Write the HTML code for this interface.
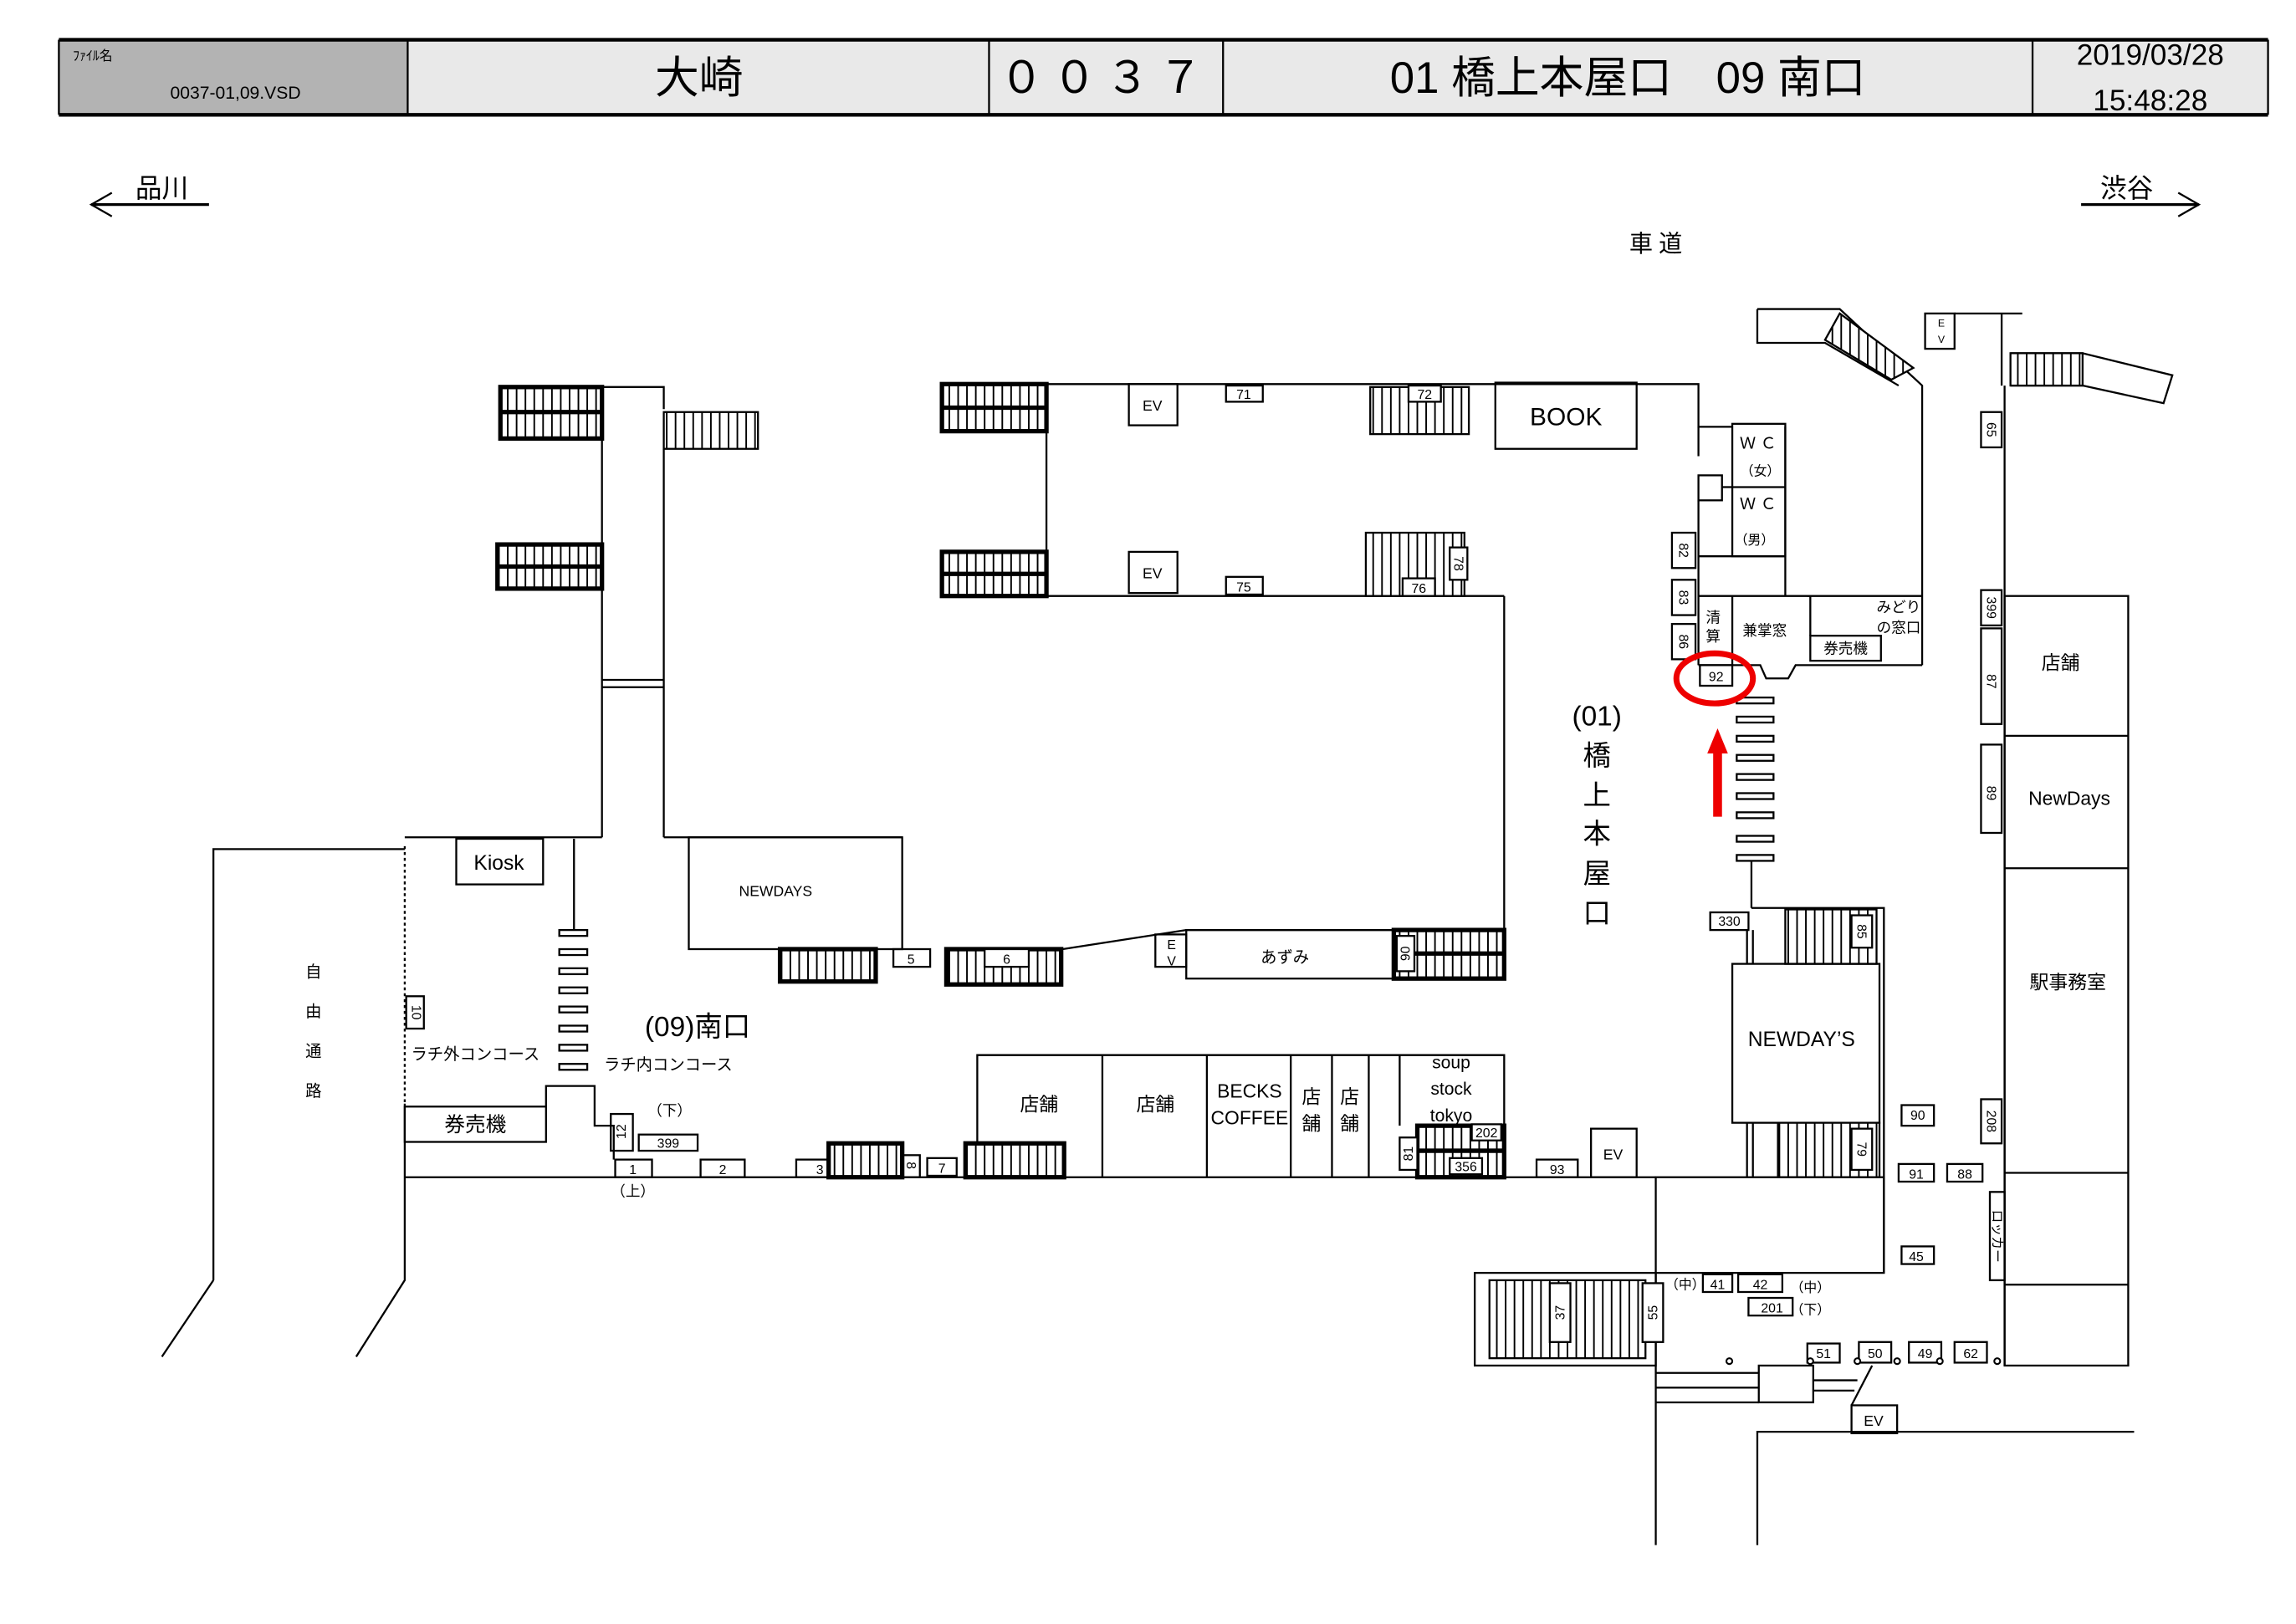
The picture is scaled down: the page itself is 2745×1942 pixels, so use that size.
<!DOCTYPE html>
<html><head><meta charset="utf-8"><style>
html,body{margin:0;padding:0;background:#fff;}
svg{display:block;}
text{font-family:"Liberation Sans","Noto Sans CJK JP",sans-serif;fill:#000;}
</style></head><body>
<svg width="2745" height="1942" viewBox="0 0 1560 1103.6" xmlns="http://www.w3.org/2000/svg">
<defs>
<pattern id="sv" width="6" height="10" patternUnits="userSpaceOnUse"><rect width="6" height="10" fill="#fff"/><line x1="3" y1="0" x2="3" y2="10" stroke="#000" stroke-width="1.1"/></pattern>
<pattern id="sh" width="10" height="6" patternUnits="userSpaceOnUse"><rect width="10" height="6" fill="#fff"/><line x1="0" y1="3" x2="10" y2="3" stroke="#000" stroke-width="1.1"/></pattern>
</defs>
<g fill="none" stroke="#000" stroke-width="1.3">
<!-- header -->
<rect x="40" y="27" width="237" height="51" fill="#b3b3b3" stroke="none"/>
<rect x="277" y="27" width="1264" height="51" fill="#e9e9e9" stroke="none"/>
<line x1="40" y1="27" x2="1541" y2="27" stroke-width="2.5"/>
<line x1="40" y1="78" x2="1541" y2="78" stroke-width="2.5"/>
<line x1="40" y1="27" x2="40" y2="78"/><line x1="1541" y1="27" x2="1541" y2="78"/>
<line x1="277" y1="27" x2="277" y2="78"/><line x1="672" y1="27" x2="672" y2="78"/>
<line x1="831" y1="27" x2="831" y2="78"/><line x1="1381" y1="27" x2="1381" y2="78"/>
<!-- direction arrows -->
<line x1="62" y1="139" x2="142" y2="139" stroke-width="1.8"/><polyline points="76,131 62,139 76,147"/>
<line x1="1414" y1="139" x2="1494" y2="139" stroke-width="1.8"/><polyline points="1480,131 1494,139 1480,147"/>

<!-- left stair column -->
<polyline points="409,298 409,370"/><polyline points="409,400 409,569"/>
<polyline points="409,263 451,263 451,278"/><polyline points="451,305 451,569"/>
<rect x="340" y="263" width="69" height="35" fill="url(#sv)" stroke-width="3"/><line x1="340" y1="280" x2="409" y2="280" stroke-width="3"/>
<rect x="338" y="370" width="71" height="30" fill="url(#sv)" stroke-width="3"/><line x1="338" y1="385" x2="409" y2="385" stroke-width="3"/>
<rect x="451" y="280" width="64" height="25" fill="url(#sv)"/>
<line x1="409" y1="462" x2="451" y2="462"/><line x1="409" y1="467" x2="451" y2="467"/>

<!-- upper hall -->
<polyline points="711,261 1154,261 1154,290 1177,290"/>
<line x1="711" y1="293" x2="711" y2="375"/>
<line x1="711" y1="405" x2="1022" y2="405"/>
<line x1="1022" y1="405" x2="1022" y2="632"/>
<rect x="640" y="261" width="71" height="32" fill="url(#sv)" stroke-width="3"/><line x1="640" y1="277" x2="711" y2="277" stroke-width="3"/>
<rect x="640" y="375" width="71" height="30" fill="url(#sv)" stroke-width="3"/><line x1="640" y1="390" x2="711" y2="390" stroke-width="3"/>
<rect x="767" y="261" width="33" height="28"/><rect x="767" y="375" width="33" height="28"/>
<rect x="833" y="262" width="25" height="11"/><rect x="833" y="392" width="25" height="12"/>
<rect x="931" y="263" width="67" height="32" fill="url(#sv)"/><rect x="957" y="262" width="22" height="11" fill="#fff"/>
<rect x="928" y="362" width="67" height="43" fill="url(#sv)"/><rect x="953" y="393" width="22" height="12" fill="#fff"/><rect x="985" y="372" width="12" height="22" fill="#fff"/>
<rect x="1016" y="260" width="96" height="45"/>

<!-- lower part of hall -->
<line x1="722" y1="645" x2="806" y2="632"/><line x1="806" y1="632" x2="1022" y2="632"/>
<rect x="806" y="632" width="141" height="33"/>
<rect x="785" y="635" width="21" height="22"/>
<rect x="947" y="632" width="75" height="33" fill="url(#sv)" stroke-width="3"/><line x1="947" y1="648" x2="1022" y2="648" stroke-width="3"/><rect x="949" y="636" width="12" height="24" fill="#fff"/>
<line x1="451" y1="569" x2="613" y2="569"/>
<rect x="468" y="569" width="145" height="76"/>
<rect x="530" y="645" width="65" height="22" fill="url(#sv)" stroke-width="3"/>
<rect x="607" y="645" width="25" height="12"/>
<rect x="643" y="645" width="78" height="24" fill="url(#sv)" stroke-width="3"/><rect x="669" y="645" width="30" height="12" fill="#fff"/>

<!-- left concourse -->
<line x1="275" y1="569" x2="409" y2="569"/>
<rect x="310" y="570" width="59" height="31"/>
<line x1="390" y1="570" x2="390" y2="632"/>
<line x1="275" y1="575" x2="275" y2="750" stroke-dasharray="2,2"/>
<polyline points="145,870 145,577 275,577"/>
<line x1="145" y1="870" x2="110" y2="922"/>
<polyline points="275,750 275,870 242,922"/>
<rect x="275" y="752" width="96" height="24"/>
<polyline points="371,752 371,738 404,738 404,765 417,765 417,788"/>
<rect x="276" y="677" width="12" height="22"/>
<line x1="275" y1="800" x2="1125" y2="800"/>
<rect x="418" y="788" width="25" height="12"/><rect x="415" y="757" width="15" height="25"/>
<rect x="434" y="771" width="40" height="11"/><rect x="476" y="788" width="30" height="12"/>
<rect x="541" y="788" width="33" height="12"/>
<rect x="563" y="777" width="50" height="23" fill="url(#sv)" stroke-width="3"/>
<rect x="613" y="785" width="12" height="15"/><rect x="630" y="787" width="20" height="12"/>
<!-- shops row -->
<polyline points="664,800 664,717 1022,717 1022,800"/>
<line x1="749" y1="717" x2="749" y2="800"/><line x1="820" y1="717" x2="820" y2="800"/>
<line x1="877" y1="717" x2="877" y2="800"/><line x1="905" y1="717" x2="905" y2="800"/>
<line x1="930" y1="717" x2="930" y2="800"/>
<line x1="951" y1="717" x2="951" y2="765"/>
<rect x="656" y="777" width="67" height="23" fill="url(#sv)" stroke-width="3"/>
<rect x="963" y="765" width="59" height="35" fill="url(#sv)" stroke-width="3"/><line x1="963" y1="782" x2="1022" y2="782" stroke-width="3"/>
<rect x="951" y="773" width="12" height="22" fill="#fff"/>
<rect x="1000" y="764" width="20" height="11" fill="#fff"/><rect x="985" y="787" width="22" height="11" fill="#fff"/>
<rect x="1044" y="788" width="28" height="12"/><rect x="1081" y="767" width="31" height="33"/>

<!-- right upper area -->
<line x1="1154" y1="290" x2="1154" y2="310"/>
<line x1="1154" y1="340" x2="1154" y2="452"/>
<rect x="1154" y="323" width="16" height="17"/>
<line x1="1170" y1="331" x2="1177" y2="331"/>
<rect x="1177" y="288" width="36" height="90"/>
<line x1="1177" y1="331" x2="1213" y2="331"/>
<line x1="1154" y1="378" x2="1213" y2="378"/>
<line x1="1213" y1="290" x2="1213" y2="405"/>
<polyline points="1154,405 1230,405 1230,432"/>
<line x1="1177" y1="405" x2="1177" y2="452"/>
<polyline points="1228,405 1306,405"/>
<rect x="1230" y="432" width="48" height="17"/>
<polyline points="1154,452 1196,452 1200,461 1215,461 1220,452 1306,452"/>
<polyline points="1194,210 1250,210 1306,262 1306,452"/>
<polyline points="1194,210 1194,233 1240,233 1290,262"/>
<polygon points="1250,213 1300,250 1285,258 1240,231" fill="url(#sv)"/>
<rect x="1308" y="213" width="20" height="24"/>
<polyline points="1328,213 1374,213"/><line x1="1360" y1="213" x2="1360" y2="262"/>
<polyline points="1366,240 1415,240 1476,255 1470,274 1415,262 1366,262"/>
<rect x="1366" y="240" width="49" height="22" fill="url(#sv)"/>
<line x1="1362" y1="262" x2="1362" y2="928"/>
<rect x="1362" y="405" width="84" height="523"/>
<line x1="1362" y1="500" x2="1446" y2="500"/><line x1="1362" y1="590" x2="1446" y2="590"/>
<line x1="1362" y1="797" x2="1446" y2="797"/><line x1="1362" y1="873" x2="1446" y2="873"/>
<rect x="1346" y="280" width="14" height="24"/><rect x="1346" y="401" width="14" height="24"/>
<rect x="1346" y="427" width="14" height="65"/><rect x="1346" y="506" width="14" height="60"/>
<rect x="1346" y="747" width="14" height="30"/><rect x="1352" y="810" width="10" height="60"/>
<rect x="1136" y="362" width="16" height="24"/><rect x="1136" y="394" width="16" height="24"/>
<rect x="1136" y="424" width="16" height="24"/><rect x="1155" y="452" width="22" height="14"/>
<!-- gates -->
<rect x="1180" y="474" width="25" height="4"/><rect x="1180" y="487" width="25" height="4"/>
<rect x="1180" y="500" width="25" height="4"/><rect x="1180" y="513" width="25" height="4"/>
<rect x="1180" y="526" width="25" height="4"/><rect x="1180" y="539" width="25" height="4"/>
<rect x="1180" y="552" width="25" height="4"/><rect x="1180" y="568" width="25" height="4"/>
<rect x="1180" y="581" width="25" height="4"/>
<line x1="1190" y1="585" x2="1190" y2="617"/>
<rect x="380" y="632" width="19" height="4"/><rect x="380" y="645" width="19" height="4"/>
<rect x="380" y="658" width="19" height="4"/><rect x="380" y="671" width="19" height="4"/>
<rect x="380" y="684" width="19" height="4"/><rect x="380" y="697" width="19" height="4"/>
<rect x="380" y="710" width="19" height="4"/><rect x="380" y="723" width="19" height="4"/>
<!-- NEWDAY'S block -->
<rect x="1162" y="620" width="26" height="12"/>
<polyline points="1190,617 1280,617 1280,865"/>
<rect x="1213" y="618" width="62" height="37" fill="url(#sv)"/><rect x="1258" y="622" width="14" height="22" fill="#fff"/>
<rect x="1177" y="655" width="100" height="108"/>
<rect x="1208" y="763" width="69" height="37" fill="url(#sv)"/><rect x="1258" y="767" width="14" height="28" fill="#fff"/>
<line x1="1187" y1="632" x2="1187" y2="655"/><line x1="1191" y1="632" x2="1191" y2="655"/>
<line x1="1187" y1="763" x2="1187" y2="800"/><line x1="1191" y1="763" x2="1191" y2="800"/>
<rect x="1125" y="800" width="155" height="65"/>
<line x1="1125" y1="865" x2="1125" y2="1050"/>
<rect x="1002" y="865" width="123" height="63"/>
<rect x="1012" y="870" width="106" height="53" fill="url(#sv)"/>
<rect x="1053" y="872" width="14" height="40" fill="#fff"/><rect x="1116" y="872" width="14" height="40" fill="#fff"/>
<rect x="1157" y="866" width="20" height="12"/><rect x="1181" y="866" width="30" height="12"/>
<rect x="1188" y="882" width="30" height="12"/>
<rect x="1228" y="913" width="22" height="13"/><rect x="1263" y="912" width="22" height="14"/>
<rect x="1297" y="912" width="22" height="14"/><rect x="1328" y="912" width="22" height="14"/>
<line x1="1125" y1="933" x2="1195" y2="933"/><line x1="1125" y1="943" x2="1195" y2="943"/><line x1="1125" y1="953" x2="1195" y2="953"/>
<rect x="1195" y="928" width="37" height="25"/>
<line x1="1232" y1="945" x2="1260" y2="945"/><line x1="1232" y1="938" x2="1262" y2="938"/>
<line x1="1258" y1="955" x2="1272" y2="928"/>
<rect x="1258" y="955" width="31" height="19"/>
<polyline points="1194,1050 1194,973 1450,973"/>
<rect x="1292" y="751" width="22" height="14"/><rect x="1290" y="791" width="24" height="12"/>
<rect x="1323" y="791" width="24" height="12"/><rect x="1292" y="847" width="22" height="12"/>
</g>
<g fill="#fff" stroke="#000" stroke-width="1.2">
<circle cx="1175" cy="925" r="2"/><circle cx="1230" cy="925" r="2"/><circle cx="1262" cy="925" r="2"/>
<circle cx="1289" cy="925" r="2"/><circle cx="1318" cy="925" r="2"/><circle cx="1357" cy="925" r="2"/>
</g>
<!-- red marks -->
<ellipse cx="1165" cy="461" rx="26" ry="17" fill="none" stroke="#e00" stroke-width="4"/>
<rect x="1164" y="510" width="6" height="45" fill="#e00"/>
<polygon points="1160,512 1167,495 1174,512" fill="#e00"/>

<!-- texts -->
<g text-anchor="middle">
<text x="63" y="41" font-size="9">ﾌｧｲﾙ名</text>
<text x="160" y="67" font-size="12">0037-01,09.VSD</text>
<text x="475" y="63" font-size="30">大崎</text>
<text x="751" y="63" font-size="30" letter-spacing="6">００３７</text>
<text x="1106" y="63" font-size="30">01 橋上本屋口　09 南口</text>
<text x="1461" y="44" font-size="20">2019/03/28</text>
<text x="1461" y="75" font-size="20">15:48:28</text>
<text x="110" y="134" font-size="18">品川</text>
<text x="1445" y="134" font-size="18">渋谷</text>
<text x="1127" y="171" font-size="16" letter-spacing="4">車道</text>
<text x="783" y="279" font-size="10">EV</text><text x="783" y="393" font-size="10">EV</text>
<text x="845" y="271" font-size="9">71</text><text x="845" y="402" font-size="9">75</text>
<text x="968" y="271" font-size="9">72</text><text x="964" y="403" font-size="9">76</text>
<text x="1064" y="289" font-size="17">BOOK</text>
<text x="339" y="591" font-size="14">Kiosk</text>
<text x="527" y="609" font-size="10">NEWDAYS</text>
<text x="619" y="655" font-size="9">5</text><text x="684" y="655" font-size="9">6</text>
<text x="796" y="645" font-size="9">E</text><text x="796" y="656" font-size="9">V</text>
<text x="873" y="654" font-size="11">あずみ</text>
<text x="213" y="664" font-size="11">自</text><text x="213" y="691" font-size="11">由</text>
<text x="213" y="718" font-size="11">通</text><text x="213" y="745" font-size="11">路</text>
<text x="474" y="704" font-size="19">(09)南口</text>
<text x="323" y="720" font-size="11">ラチ外コンコース</text>
<text x="454" y="727" font-size="11">ラチ内コンコース</text>
<text x="455" y="758" font-size="10">（下）</text>
<text x="323" y="769" font-size="14">券売機</text>
<text x="454" y="780" font-size="9">399</text>
<text x="430" y="798" font-size="9">1</text><text x="430" y="813" font-size="10">（上）</text>
<text x="491" y="798" font-size="9">2</text><text x="557" y="798" font-size="9">3</text><text x="640" y="797" font-size="9">7</text>
<text x="706" y="755" font-size="13">店舗</text><text x="785" y="755" font-size="13">店舗</text>
<text x="849" y="746" font-size="13">BECKS</text><text x="849" y="764" font-size="13">COFFEE</text>
<text x="891" y="750" font-size="13">店</text><text x="891" y="768" font-size="13">舗</text>
<text x="917" y="750" font-size="13">店</text><text x="917" y="768" font-size="13">舗</text>
<text x="986" y="726" font-size="12">soup</text><text x="986" y="744" font-size="12">stock</text><text x="986" y="762" font-size="12">tokyo</text>
<text x="1010" y="773" font-size="9">202</text><text x="996" y="796" font-size="9">356</text>
<text x="1058" y="798" font-size="9">93</text><text x="1096" y="788" font-size="10">EV</text>
<text x="1085" y="493" font-size="19">(01)</text>
<text x="1085" y="520" font-size="19">橋</text><text x="1085" y="547" font-size="19">上</text>
<text x="1085" y="573" font-size="19">本</text><text x="1085" y="600" font-size="19">屋</text>
<text x="1085" y="627" font-size="19">口</text>
<text x="1196" y="305" font-size="11" letter-spacing="3">ＷＣ</text><text x="1196" y="323" font-size="9">（女）</text>
<text x="1196" y="346" font-size="11" letter-spacing="3">ＷＣ</text><text x="1192" y="370" font-size="9">（男）</text>
<text x="1164" y="423" font-size="10">清</text><text x="1164" y="436" font-size="10">算</text>
<text x="1199" y="432" font-size="10">兼掌窓</text>
<text x="1290" y="416" font-size="10">みどり</text><text x="1290" y="430" font-size="10">の窓口</text>
<text x="1254" y="444" font-size="10">券売機</text>
<text x="1166" y="463" font-size="9">92</text>
<text x="1175" y="629" font-size="9">330</text>
<text x="1224" y="711" font-size="14">NEWDAY’S</text>
<text x="1400" y="455" font-size="13">店舗</text>
<text x="1406" y="547" font-size="13">NewDays</text>
<text x="1405" y="672" font-size="13">駅事務室</text>
<text x="1096" y="970" font-size="9" visibility="hidden">.</text>
<text x="1303" y="761" font-size="9">90</text><text x="1302" y="801" font-size="9">91</text>
<text x="1335" y="801" font-size="9">88</text><text x="1302" y="857" font-size="9">45</text>
<text x="1145" y="876" font-size="9">（中）</text><text x="1167" y="876" font-size="9">41</text>
<text x="1196" y="876" font-size="9">42</text><text x="1230" y="878" font-size="9">（中）</text>
<text x="1204" y="892" font-size="9">201</text><text x="1230" y="893" font-size="9">（下）</text>
<text x="1239" y="923" font-size="9">51</text><text x="1274" y="923" font-size="9">50</text>
<text x="1308" y="923" font-size="9">49</text><text x="1339" y="923" font-size="9">62</text>
<text x="1273" y="969" font-size="10">EV</text>
<text x="1319" y="222" font-size="7">E</text><text x="1319" y="233" font-size="7">V</text>
</g>
<!-- rotated small labels -->
<g font-size="9" text-anchor="middle">
<text transform="translate(283,688) rotate(90)" dy="3">10</text>
<text transform="translate(422,769) rotate(-90)" dy="3">12</text>
<text transform="translate(619,792) rotate(90)" dy="3">8</text>
<text transform="translate(957,784) rotate(-90)" dy="3">81</text>
<text transform="translate(955,648) rotate(-90)" dy="3">90</text>
<text transform="translate(991,383) rotate(90)" dy="3">78</text>
<text transform="translate(1144,374) rotate(90)" dy="3">82</text>
<text transform="translate(1144,406) rotate(90)" dy="3">83</text>
<text transform="translate(1144,436) rotate(90)" dy="3">86</text>
<text transform="translate(1353,292) rotate(90)" dy="3">65</text>
<text transform="translate(1353,413) rotate(90)" dy="3">399</text>
<text transform="translate(1353,463) rotate(90)" dy="3">87</text>
<text transform="translate(1353,539) rotate(90)" dy="3">89</text>
<text transform="translate(1353,762) rotate(90)" dy="3">208</text>
<text transform="translate(1357,840) rotate(90)" dy="3">ロッカー</text>
<text transform="translate(1265,633) rotate(90)" dy="3">85</text>
<text transform="translate(1265,781) rotate(90)" dy="3">79</text>
<text transform="translate(1060,892) rotate(-90)" dy="3">37</text>
<text transform="translate(1123,892) rotate(-90)" dy="3">55</text>
</g>
</svg>
</body></html>
